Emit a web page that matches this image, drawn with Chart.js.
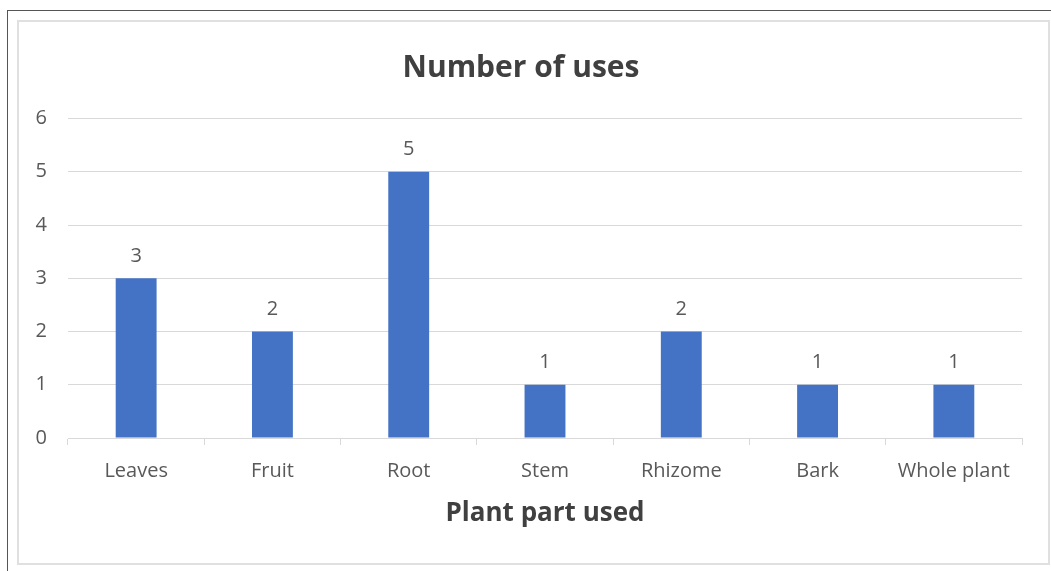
<!DOCTYPE html>
<html>
<head>
<meta charset="utf-8">
<title>Number of uses</title>
<script src="https://cdn.jsdelivr.net/npm/chart.js@4.4.1/dist/chart.umd.min.js"></script>
<style>
    html, body { margin: 0; padding: 0; background: #fff; overflow: hidden; }
    #frame { position: absolute; left: 7px; top: 10px; width: 1060px; height: 580px;
             border-left: 1px solid #555; border-top: 1px solid #555; }
    #box { position: absolute; left: 17px; top: 20px; width: 1029px; height: 541px;
           border: 2px solid #e0e0e0; }
    #chart { position: absolute; left: 0; top: 0; }
</style>
</head>
<body>
<div id="frame"></div>
<div id="box"></div>
<canvas id="chart" width="1051" height="571"></canvas>
<script>
// datos del grafico
const parts = ['Leaves', 'Fruit', 'Root', 'Stem', 'Rhizome', 'Bark', 'Whole plant'];
const uses = [3, 2, 5, 1, 2, 1, 1];
const yTicks = [0, 1, 2, 3, 4, 5, 6];

const textColor = '#595959';
const gridColor = '#d9d9d9';
const fontFamily = '"Open Sans", "Noto Sans", sans-serif';

// etiquetas sobre cada barra
const barLabels = {
    id: 'barLabels',
    afterDatasetsDraw(chart) {
        const ctx = chart.ctx;
        const meta = chart.getDatasetMeta(0);
        ctx.save();
        ctx.font = '20px ' + fontFamily;
        ctx.fillStyle = textColor;
        ctx.textAlign = 'center';
        ctx.textBaseline = 'middle';
        meta.data.forEach(function (bar, i) {
            ctx.fillText(String(chart.data.datasets[0].data[i]), bar.x, bar.y - 22);
        });
        ctx.restore();
    }
};

const ctx = document.getElementById('chart').getContext('2d');
const chart = new Chart(ctx, {
    type: 'bar',
    data: {
        labels: parts,
        datasets: [{
            label: 'Number of uses',
            data: uses,
            backgroundColor: '#4472C4',
            borderWidth: 0,
            categoryPercentage: 1,
            barPercentage: 0.3
        }]
    },
    options: {
        responsive: false,
        animation: false,
        layout: { padding: { left: 20, right: 29, top: 20, bottom: 8 } },
        plugins: {
            legend: { display: false },
            tooltip: { enabled: false },
            title: {
                display: true,
                text: 'Number of uses',
                color: '#404040',
                font: { family: fontFamily, size: 30, weight: 'bold' },
                padding: { top: 30, bottom: 32.5 }
            }
        },
        scales: {
            x: {
                afterFit(scale) { scale.height = 125; },
                grid: { drawOnChartArea: false, drawTicks: true, tickLength: 7, color: gridColor, offset: true },
                border: { color: gridColor, width: 1 },
                ticks: {
                    color: textColor,
                    font: { family: fontFamily, size: 20 },
                    padding: 14,
                    maxRotation: 0,
                    autoSkip: false
                },
                title: {
                    display: true,
                    text: 'Plant part used',
                    color: '#404040',
                    font: { family: fontFamily, size: 26, weight: 'bold' },
                    padding: { top: 0, bottom: 34 }
                }
            },
            y: {
                min: 0,
                max: 6,
                afterFit(scale) { scale.width = 48; },
                afterBuildTicks(scale) { scale.ticks = yTicks.map(v => ({ value: v })); },
                grid: { color: gridColor, drawTicks: false },
                border: { display: false },
                ticks: {
                    color: textColor,
                    font: { family: fontFamily, size: 20 },
                    padding: 21
                }
            }
        }
    },
    plugins: [barLabels]
});
</script>
</body>
</html>
